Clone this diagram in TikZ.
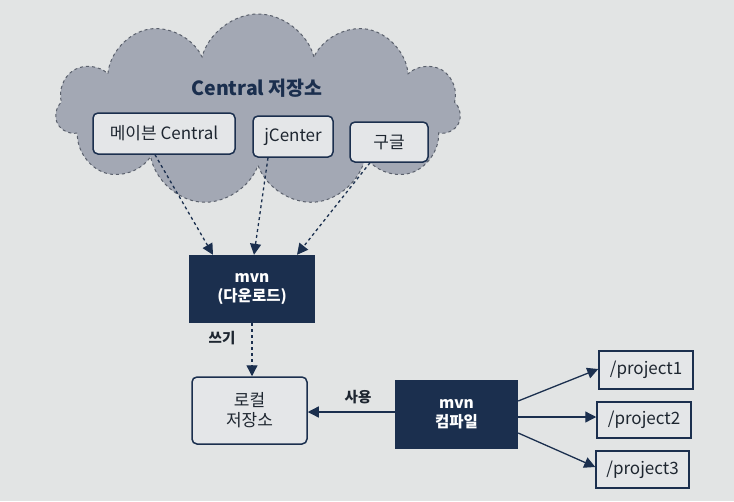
\documentclass[tikz,border=0pt]{standalone}
\usepackage{fontspec}
\setmainfont{Noto Sans CJK KR}
\usetikzlibrary{shapes.symbols,arrows.meta}
\definecolor{navy}{HTML}{1B2F4E}
\definecolor{bgc}{HTML}{E2E4E4}
\definecolor{boxc}{HTML}{E4E6E8}
\definecolor{cloudc}{HTML}{A3A8B4}
\definecolor{cloudline}{HTML}{5A606C}
\definecolor{txt}{HTML}{1E2630}
\tikzset{
  lightbox/.style={draw=navy, line width=1.5pt, fill=boxc, rounded corners=5pt, text=txt, inner sep=0pt, font=\fontsize{17}{20}\selectfont, align=center},
  darkbox/.style={fill=navy, text=white, inner sep=0pt, font=\bfseries\fontsize{15.5}{19}\selectfont, align=center},
  projbox/.style={draw=navy, line width=1.5pt, fill=boxc, text=txt, inner sep=0pt, font=\fontsize{17}{20}\selectfont},
  arr/.style={-{Triangle[length=11pt,width=11pt]}, line width=1.3pt, draw=navy},
  lbl/.style={text=txt, font=\bfseries\fontsize{14.5}{16}\selectfont, inner sep=0pt}
}
\begin{document}
\begin{tikzpicture}[x=1pt,y=-1pt]
\fill[bgc] (0,0) rectangle (734,501);
\useasboundingbox (0,0) rectangle (734,501);
% cloud
\node[cloud, cloud puffs=11, aspect=2.1, minimum width=405pt, minimum height=192pt, fill=cloudc, draw=cloudline, dashed, line width=1pt] (cloud) at (258,110) {};
\node[text=navy, font=\bfseries\fontsize{19.5}{22}\selectfont, inner sep=0pt] (title) at (257,88) {Central 저장소};
\node[lightbox, minimum width=142pt, minimum height=41pt] (mc) at (164,133.5) {메이븐 Central};
\node[lightbox, minimum width=80pt, minimum height=41pt] (jc) at (293,136.5) {jCenter};
\node[lightbox, minimum width=78pt, minimum height=40pt] (gg) at (389,142) {구글};
% mvn download
\node[darkbox, minimum width=126pt, minimum height=68pt] (dl) at (252,289) {mvn\\(다운로드)};
\node[lightbox, minimum width=115pt, minimum height=67pt] (local) at (249.5,410.5) {로컬\\저장소};
\node[darkbox, minimum width=123pt, minimum height=69pt] (comp) at (456.5,414.5) {mvn\\컴파일};
\node[projbox, minimum width=94pt, minimum height=38pt] (p1) at (646,370) {/project1};
\node[projbox, minimum width=94pt, minimum height=36pt] (p2) at (644,420) {/project2};
\node[projbox, minimum width=93pt, minimum height=37pt] (p3) at (642.5,469.5) {/project3};
% arrows
\draw[arr, dashed] ([xshift=-9pt]mc.south) -- ([xshift=-39pt]dl.north);
\draw[arr, dashed] ([xshift=-25pt]jc.south) -- ([xshift=2pt]dl.north);
\draw[arr, dashed] ([xshift=-19pt]gg.south) -- ([xshift=45pt]dl.north);
\draw[arr, dashed] (dl.south) -- (dl.south |- local.north);
\node[lbl] (w) at (222,338) {쓰기};
\draw[arr] ([yshift=2.5pt]comp.west) -- ([yshift=2.5pt]comp.west -| local.east);
\node[lbl] (u) at (358,397) {사용};
\draw[arr] ([yshift=13.5pt]comp.east) -- ([yshift=1pt]p1.west);
\draw[arr] ([yshift=-2.5pt]comp.east) -- ([yshift=3pt]p2.west);
\draw[arr] ([yshift=-18.5pt]comp.east) -- ([yshift=2.5pt]p3.west);
\end{tikzpicture}
\end{document}
